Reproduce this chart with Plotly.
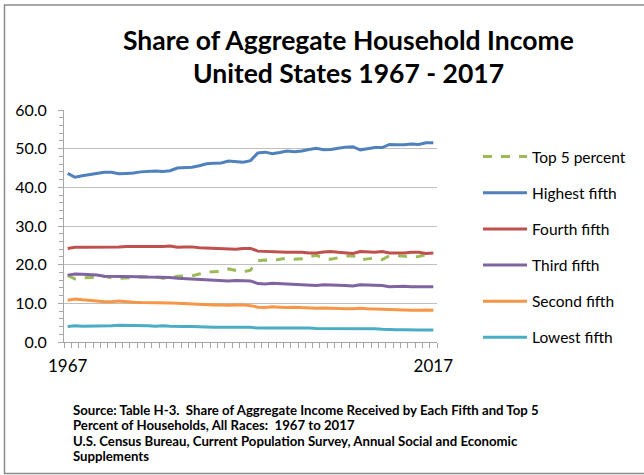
import plotly.graph_objects as go

years = list(range(1967, 2018))

lowest = [4.0, 4.2, 4.1, 4.1, 4.1, 4.1, 4.2, 4.3, 4.3, 4.3, 4.2, 4.2, 4.1, 4.2, 4.1, 4.0,
          4.0, 4.0, 3.9, 3.8, 3.8, 3.8, 3.8, 3.8, 3.8, 3.8, 3.6, 3.6, 3.7, 3.6, 3.6, 3.6,
          3.6, 3.6, 3.5, 3.5, 3.4, 3.4, 3.4, 3.4, 3.4, 3.4, 3.4, 3.3, 3.2, 3.2, 3.2, 3.1,
          3.1, 3.1, 3.1]
second = [10.8, 11.1, 10.9, 10.8, 10.6, 10.4, 10.4, 10.6, 10.4, 10.3, 10.2, 10.2, 10.2,
          10.2, 10.1, 10.0, 9.9, 9.9, 9.8, 9.7, 9.6, 9.6, 9.5, 9.6, 9.6, 9.4, 9.0, 8.9,
          9.1, 9.0, 8.9, 9.0, 8.9, 8.9, 8.7, 8.8, 8.7, 8.7, 8.6, 8.6, 8.7, 8.6, 8.6, 8.5,
          8.4, 8.3, 8.3, 8.2, 8.2, 8.3, 8.2]
third = [17.3, 17.6, 17.5, 17.4, 17.3, 17.0, 17.0, 17.0, 17.0, 17.0, 16.9, 16.8, 16.8,
         16.8, 16.7, 16.5, 16.4, 16.3, 16.2, 16.2, 16.1, 16.0, 15.8, 15.9, 15.9, 15.8,
         15.1, 15.0, 15.2, 15.1, 15.0, 15.0, 14.9, 14.8, 14.6, 14.8, 14.8, 14.7, 14.6,
         14.5, 14.8, 14.7, 14.6, 14.6, 14.3, 14.4, 14.4, 14.3, 14.3, 14.2, 14.3]
fourth = [24.2, 24.5, 24.5, 24.5, 24.5, 24.5, 24.5, 24.6, 24.7, 24.7, 24.7, 24.7, 24.6,
          24.7, 24.8, 24.5, 24.6, 24.6, 24.4, 24.3, 24.3, 24.2, 24.0, 24.0, 24.2, 24.2,
          23.5, 23.4, 23.3, 23.3, 23.2, 23.2, 23.2, 23.0, 23.0, 23.3, 23.4, 23.2, 23.0,
          22.9, 23.4, 23.3, 23.2, 23.4, 23.0, 23.0, 23.0, 23.2, 23.2, 22.9, 23.0]
highest = [43.6, 42.6, 43.0, 43.3, 43.5, 43.9, 43.9, 43.5, 43.6, 43.7, 44.0, 44.1, 44.2,
           44.1, 44.3, 45.0, 45.1, 45.2, 45.6, 46.1, 46.2, 46.3, 46.8, 46.6, 46.5, 46.9,
           48.9, 49.1, 48.7, 49.0, 49.4, 49.2, 49.4, 49.8, 50.1, 49.7, 49.8, 50.1, 50.4,
           50.5, 49.7, 50.0, 50.3, 50.3, 51.1, 51.0, 51.0, 51.2, 51.1, 51.5, 51.5]
top5 = [17.2, 16.3, 16.6, 16.6, 16.7, 17.0, 16.6, 16.5, 16.6, 16.6, 16.8, 16.8, 16.9,
        16.5, 16.5, 17.0, 17.0, 17.1, 17.6, 18.0, 18.2, 18.3, 18.9, 18.5, 18.1, 18.6,
        21.0, 21.2, 21.0, 21.4, 21.7, 21.4, 21.5, 22.1, 22.4, 21.7, 21.4, 21.8, 22.2,
        22.3, 21.2, 21.5, 21.7, 21.3, 22.3, 22.3, 22.2, 21.9, 22.1, 22.6, 22.3]

series = [
    ("Top 5 percent", top5, "#9BBB59", "dash"),
    ("Highest fifth", highest, "#4F81BD", "solid"),
    ("Fourth fifth", fourth, "#C0504D", "solid"),
    ("Third fifth", third, "#8064A2", "solid"),
    ("Second fifth", second, "#F79646", "solid"),
    ("Lowest fifth", lowest, "#4BACC6", "solid"),
]

y_ticks = [0, 10, 20, 30, 40, 50, 60]
x_ticks = [1967, 2017]

title_lines = ["Share of Aggregate Household Income", "United States 1967 - 2017"]
source_lines = [
    "Source: Table H-3.  Share of Aggregate Income Received by Each Fifth and Top 5",
    "Percent of Households, All Races:  1967 to 2017",
    "U.S. Census Bureau, Current Population Survey, Annual Social and Economic",
    "Supplements",
]

FONT = "Lato"

fig = go.Figure()
for i, (name, vals, color, dash) in enumerate(series):
    fig.add_trace(go.Scatter(
        x=years, y=vals, mode="lines", name=name,
        line=dict(color=color, width=3, dash=dash),
        legendgroup=name, legendrank=i + 1,
    ))

L, R, T, B = 64, 207, 110, 133
W, H = 644, 475
pw, ph = W - L - R, H - T - B

def px_x(px):
    return (px - L) / pw

def px_y(py):
    return (H - B - py) / ph

fig.update_layout(
    width=W, height=H,
    margin=dict(l=L, r=R, t=T, b=B),
    paper_bgcolor="white", plot_bgcolor="white",
    font=dict(family=FONT, color="#000000", size=15),
    showlegend=True,
    legend=dict(
        x=px_x(478), y=px_y(140), xanchor="left", yanchor="top",
        font=dict(family=FONT, size=15.5, color="#000000"),
        tracegroupgap=13, bgcolor="rgba(0,0,0,0)",
        itemwidth=44,
    ),
    xaxis=dict(
        range=[1966.5, 2017.5],
        tickmode="array", tickvals=x_ticks, ticktext=[str(v) for v in x_ticks],
        ticks="", showgrid=False, zeroline=False,
        showline=True, linecolor="#A6A6A6", linewidth=1,
        tickfont=dict(family=FONT, size=17, color="#000000"),
        ticklabelstandoff=9,
        minor=dict(tickmode="linear", tick0=1966.5, dtick=1, ticks="outside",
                   ticklen=5, tickcolor="#A6A6A6", tickwidth=1, showgrid=False),
    ),
    yaxis=dict(
        range=[0, 60],
        tickmode="array", tickvals=y_ticks, ticktext=[f"{v:.1f}" for v in y_ticks],
        ticks="outside", ticklen=5, tickcolor="#A6A6A6",
        showgrid=True, gridcolor="#BFBFBF", gridwidth=1, zeroline=False,
        showline=True, linecolor="#A6A6A6", linewidth=1,
        tickfont=dict(family=FONT, size=16, color="#000000"),
        ticklabelstandoff=8,
        minor=dict(tickmode="linear", tick0=0, dtick=2, ticks="outside",
                   ticklen=4, tickcolor="#A6A6A6", tickwidth=1, showgrid=False),
    ),
)

for line, ypx in zip(title_lines, [40, 73]):
    fig.add_annotation(text=f"<b>{line}</b>",
                       xref="paper", yref="paper", x=px_x(348), y=px_y(ypx),
                       xanchor="center", yanchor="middle", showarrow=False,
                       font=dict(family=FONT, size=26.5, color="#000000"))

for line, ypx in zip(source_lines, [410, 425.3, 440.6, 456]):
    fig.add_annotation(text=f"<b>{line}</b>", xref="paper", yref="paper",
                       x=px_x(71), y=px_y(ypx), xanchor="left", yanchor="middle",
                       align="left", showarrow=False,
                       font=dict(family=FONT, size=13.2, color="#000000"))

fig.add_shape(type="rect", xref="paper", yref="paper",
              x0=px_x(4.5), x1=px_x(650), y0=px_y(473.5), y1=px_y(5),
              line=dict(color="#8C8C8C", width=1.5), fillcolor="rgba(0,0,0,0)",
              layer="below")

fig.write_html("out.html", config={"displayModeBar": False},
               post_script="document.body.style.margin='0';")
